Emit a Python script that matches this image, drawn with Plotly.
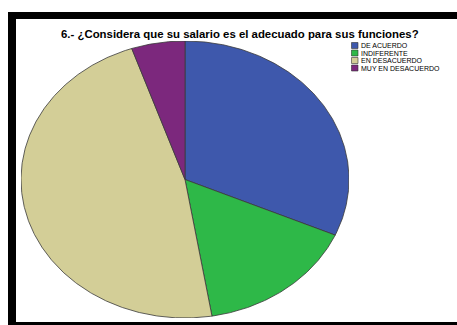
import numpy as np
import plotly.graph_objects as go

# Survey answers (counts) for question 6
categories = ["DE ACUERDO", "INDIFERENTE", "EN DESACUERDO", "MUY EN DESACUERDO"]
counts = [6, 3, 9, 1]
colors = ["#3E58AC", "#2EB848", "#D3CE97", "#7C287D"]
title_text = "6.- ¿Considera que su salario es el adecuado para sus funciones?"

W, H = 457, 325


def px_x(x):
    return x / W


def px_y(y):
    return (H - y) / H


fig = go.Figure()

# Slices: clockwise from 12 o'clock, angle proportional to each count
total = float(sum(counts))
start = 0.0
for cat, val, col in zip(categories, counts, colors):
    sweep = 2 * np.pi * val / total
    theta = np.linspace(start, start + sweep, max(int(val * 40), 20))
    xs = np.concatenate([[0.0], np.sin(theta), [0.0]])
    ys = np.concatenate([[0.0], np.cos(theta), [0.0]])
    fig.add_trace(go.Scatter(
        x=xs, y=ys, mode="lines", fill="toself", fillcolor=col,
        line=dict(color="#3a3a3a", width=0.8), name=cat,
        hoverinfo="name", showlegend=False,
    ))
    start += sweep

shapes = [
    # outer black frame
    dict(type="rect", xref="paper", yref="paper", x0=px_x(8), x1=1.01,
         y0=-0.01, y1=px_y(12), fillcolor="black", line_width=0, layer="below"),
    # white chart area inside the frame
    dict(type="rect", xref="paper", yref="paper", x0=px_x(16), x1=1.01,
         y0=px_y(322), y1=px_y(19), fillcolor="white", line_width=0, layer="below"),
]

annotations = [
    dict(text="<b>" + title_text + "</b>", x=px_x(240), y=px_y(34),
         xref="paper", yref="paper", showarrow=False, xanchor="center",
         yanchor="middle", font=dict(family="Liberation Sans", size=11.4, color="black")),
]

# Legend: colour swatch + label per category
row_y = [45.5, 53, 60.5, 68]
for cat, col, yy in zip(categories, colors, row_y):
    shapes.append(dict(type="rect", xref="paper", yref="paper",
                       x0=px_x(351.5), x1=px_x(358), y0=px_y(yy + 3), y1=px_y(yy - 3),
                       fillcolor=col, line=dict(color="#333333", width=0.6)))
    annotations.append(dict(text=cat, x=px_x(359), y=px_y(yy), xref="paper", yref="paper",
                            showarrow=False, xanchor="left", yanchor="middle",
                            font=dict(family="Liberation Sans", size=7, color="black")))

fig.update_layout(
    width=W, height=H,
    margin=dict(l=0, r=0, t=0, b=0),
    paper_bgcolor="white", plot_bgcolor="rgba(0,0,0,0)",
    xaxis=dict(domain=[px_x(21), px_x(349)], range=[-1, 1], visible=False, fixedrange=True),
    yaxis=dict(domain=[px_y(318), px_y(41)], range=[-1, 1], visible=False, fixedrange=True),
    shapes=shapes, annotations=annotations, showlegend=False,
)

fig.write_html("out.html")
